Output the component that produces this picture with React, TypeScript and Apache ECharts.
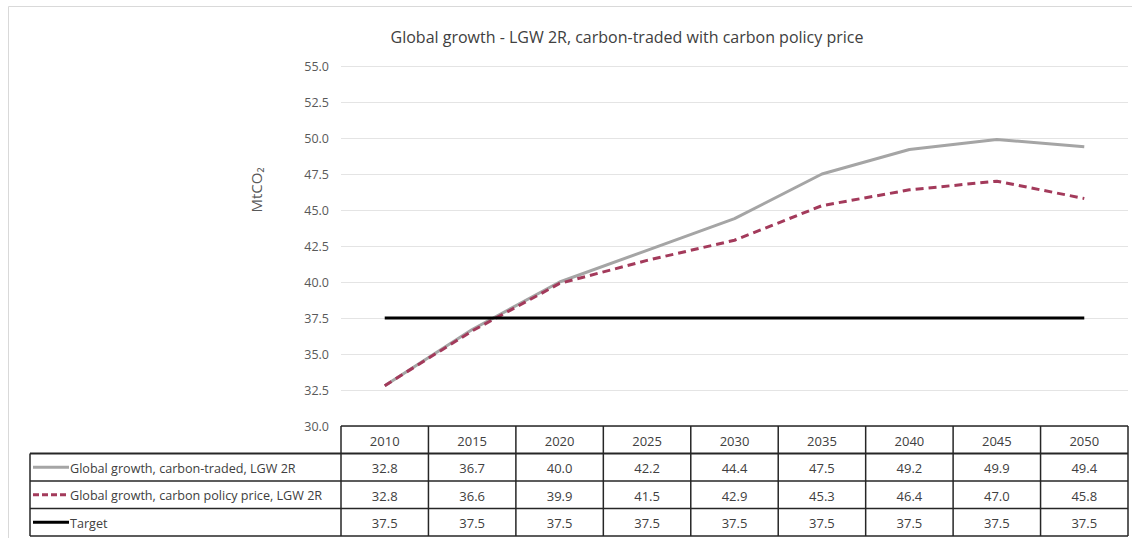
import React, { useEffect, useRef } from "react";
import * as echarts from "echarts";

// Years shown on the category axis and in the table header
const years = ["2010", "2015", "2020", "2025", "2030", "2035", "2040", "2045", "2050"];

// Emissions, MtCO2
const carbonTraded = [32.8, 36.7, 40.0, 42.2, 44.4, 47.5, 49.2, 49.9, 49.4];
const carbonPolicyPrice = [32.8, 36.6, 39.9, 41.5, 42.9, 45.3, 46.4, 47.0, 45.8];
const target = [37.5, 37.5, 37.5, 37.5, 37.5, 37.5, 37.5, 37.5, 37.5];

// Value axis range
const yMin = 30;
const yMax = 55;
const yStep = 2.5;

const seriesNames = [
  "Global growth, carbon-traded, LGW 2R",
  "Global growth, carbon policy price, LGW 2R",
  "Target",
];

const FONT = "'Open Sans', 'Noto Sans', sans-serif";
const TEXT_COLOR = "#404040";
const GRAY = "#A5A5A5";
const MAROON = "#A33A5B";
const BLACK = "#000000";

export default function App() {
  const ref = useRef<HTMLDivElement | null>(null);

  useEffect(() => {
    if (!ref.current) return;
    const chart = echarts.init(ref.current, null, { renderer: "svg" });

    const base: any = {
      animation: false,
      backgroundColor: "#ffffff",
      title: {
        text: "Global growth - LGW 2R, carbon-traded with carbon policy price",
        left: 622,
        top: 24,
        textAlign: "center",
        textStyle: {
          fontFamily: FONT,
          fontSize: 16,
          fontWeight: "normal",
          color: TEXT_COLOR,
        },
      },
      grid: { left: 341, right: 4, top: 66, bottom: 112, containLabel: false },
      xAxis: {
        type: "category",
        data: years,
        boundaryGap: true,
        axisLine: { show: false },
        axisTick: { show: false },
        axisLabel: { show: false },
        splitLine: { show: false },
      },
      yAxis: {
        type: "value",
        min: yMin,
        max: yMax,
        interval: yStep,
        axisLine: { show: false },
        axisTick: { show: false },
        axisLabel: {
          formatter: (v: number) => v.toFixed(1),
          color: "#595959",
          fontFamily: FONT,
          fontSize: 12.5,
          margin: 12,
        },
        splitLine: { lineStyle: { color: "#E4E4E4", width: 1 } },
      },
      series: [
        {
          name: seriesNames[0],
          type: "line",
          data: carbonTraded,
          symbol: "none",
          lineStyle: { color: GRAY, width: 3 },
          z: 2,
        },
        {
          name: seriesNames[1],
          type: "line",
          data: carbonPolicyPrice,
          symbol: "none",
          lineStyle: { color: MAROON, width: 3, type: [8, 5] },
          z: 3,
        },
        {
          name: seriesNames[2],
          type: "line",
          data: target,
          symbol: "none",
          lineStyle: { color: BLACK, width: 3 },
          z: 4,
        },
      ],
    };

    chart.setOption(base);

    // Data table under the plot, laid out from the axis scales
    const xs = years.map((_, i) => chart.convertToPixel({ xAxisIndex: 0 }, i) as number);
    const colW = xs.length > 1 ? xs[1] - xs[0] : 87;
    const tableLeft = xs[0] - colW / 2;
    const tableRight = xs[xs.length - 1] + colW / 2;
    const tableTop = chart.convertToPixel({ yAxisIndex: 0 }, yMin) as number;
    const headerH = 27.5;
    const rowH = 27.5;
    const legendLeft = 30;
    const lineColor = "#262626";

    const rows = [carbonTraded, carbonPolicyPrice, target];
    const rowStyles = [
      { stroke: GRAY, lineDash: null as any },
      { stroke: MAROON, lineDash: [6, 3] },
      { stroke: BLACK, lineDash: null as any },
    ];

    const els: any[] = [];
    const hLine = (x1: number, x2: number, y: number, w = 1) =>
      els.push({
        type: "line",
        shape: { x1, y1: y, x2, y2: y },
        style: { stroke: lineColor, lineWidth: w },
        silent: true,
      });
    const vLine = (x: number, y1: number, y2: number, w = 1) =>
      els.push({
        type: "line",
        shape: { x1: x, y1, x2: x, y2 },
        style: { stroke: lineColor, lineWidth: w },
        silent: true,
      });

    // outer chart-area frame
    els.push({
      type: "rect",
      shape: { x: 8.5, y: 6.5, width: 1200, height: 700 },
      style: { fill: "none", stroke: "#D9D9D9", lineWidth: 1 },
      silent: true,
      z: -10,
    });

    const bottom = tableTop + headerH + rowH * rows.length;
    hLine(tableLeft, tableRight, tableTop, 1.5);
    hLine(legendLeft, tableRight, tableTop + headerH, 2);
    for (let r = 1; r <= rows.length; r++) {
      hLine(legendLeft, tableRight, tableTop + headerH + rowH * r, 1.5);
    }
    vLine(legendLeft, tableTop + headerH, bottom, 1.5);
    for (let i = 0; i <= years.length; i++) {
      vLine(tableLeft + colW * i, tableTop, bottom, 1.5);
    }

    const cellText = (text: string, x: number, y: number, align = "center", size = 13) =>
      els.push({
        type: "text",
        x,
        y,
        style: {
          text,
          fill: TEXT_COLOR,
          font: `${size}px ${FONT}`,
          align,
          verticalAlign: "middle",
        },
        silent: true,
      });

    years.forEach((yr, i) => cellText(yr, xs[i], tableTop + headerH / 2 + 1));
    rows.forEach((vals, r) => {
      const cy = tableTop + headerH + rowH * r + rowH / 2 + 1;
      vals.forEach((v, i) => cellText(v.toFixed(1), xs[i], cy));
      els.push({
        type: "line",
        shape: { x1: legendLeft + 3, y1: cy - 1, x2: legendLeft + 39, y2: cy - 1 },
        style: {
          stroke: rowStyles[r].stroke,
          lineWidth: 3,
          lineDash: rowStyles[r].lineDash,
        },
        silent: true,
      });
      cellText(seriesNames[r], legendLeft + 40, cy, "left", 12.6);
    });

    // rotated value-axis name
    els.push({
      type: "text",
      x: 256,
      y: 190,
      rotation: Math.PI / 2,
      style: {
        text: "MtCO₂",
        fill: "#595959",
        font: `15px ${FONT}`,
        align: "center",
        verticalAlign: "middle",
      },
      silent: true,
    });

    chart.setOption({ graphic: { elements: els } });

    return () => chart.dispose();
  }, []);

  return (
    <div
      ref={ref}
      style={{ position: "fixed", left: 0, top: 0, width: 1132, height: 538 }}
    />
  );
}
